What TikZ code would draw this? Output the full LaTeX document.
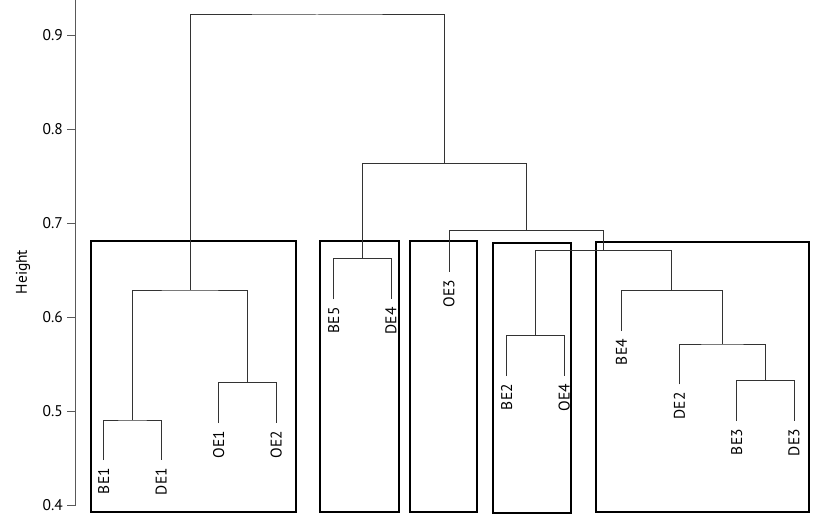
\documentclass[tikz,border=0pt]{standalone}
\usepackage{fontspec}
\setmainfont{PT Sans}
\begin{document}
\begin{tikzpicture}[x=1pt,y=-1pt,
  dend/.style={draw=black!80,line width=1pt},
  axisline/.style={draw=black!65,line width=1.3pt},
  clusterbox/.style={draw=black,line width=1.8pt},
  leaflabel/.style={rotate=90,anchor=east,inner sep=0pt,font=\fontsize{15.5}{17}\selectfont},
  ticklabel/.style={anchor=east,inner sep=0pt,font=\fontsize{15.5}{17}\selectfont}]
\useasboundingbox (0,0) rectangle (825,519);
% axis
\coordinate (atop) at (75.5,0);
\coordinate (abot) at (75.5,505);
\draw[axisline] (atop) -- (abot);
\foreach \k/\lab in {4/0.4,5/0.5,6/0.6,7/0.7,8/0.8,9/0.9}{
  \coordinate (t\k) at (75.5,{505-(\k-4)*93.9});
  \coordinate (tl\k) at (67,{505-(\k-4)*93.9});
  \draw[axisline,line width=1pt] (t\k) -- (tl\k);
  \node[ticklabel] (n\k) at (63,{505-(\k-4)*93.9}) {\lab};
}
\node[rotate=90,inner sep=0pt,font=\fontsize{15.5}{17}\selectfont] (ylab) at (23,272) {Height};
% cluster boxes
\draw[clusterbox] (90.7,240.7) rectangle (296,512.3);
\draw[clusterbox] (320,241) rectangle (398.7,512.3);
\draw[clusterbox] (410.3,241) rectangle (476.7,512.3);
\draw[clusterbox] (493,242.7) rectangle (571,513.3);
\draw[clusterbox] (595.7,241.7) rectangle (809.3,512.3);
% leaves
\coordinate (BE1) at (103.7,460);
\coordinate (DE1) at (161.3,460);
\coordinate (OE1) at (218.7,423);
\coordinate (OE2) at (276.3,423);
\coordinate (BE5) at (333.7,299.3);
\coordinate (DE4) at (391,299.3);
\coordinate (OE3) at (449,271.7);
\coordinate (BE2) at (506.7,376);
\coordinate (OE4) at (564.3,376);
\coordinate (BE4) at (621.3,331);
\coordinate (DE2) at (679.3,384.3);
\coordinate (BE3) at (736.7,421);
\coordinate (DE3) at (794,421);
% merges
\coordinate (m1) at (132.5,420);
\coordinate (m2) at (247.5,382.7);
\coordinate (m3) at (190,290);
\coordinate (m4) at (362.35,258.7);
\coordinate (m5) at (535.5,335.3);
\coordinate (m6) at (765.35,380.7);
\coordinate (m7) at (722.3,344);
\coordinate (m8) at (671.8,290.3);
\coordinate (m9) at (603.65,250.7);
\coordinate (m10) at (526.3,230.7);
\coordinate (m11) at (444.3,163.3);
\coordinate (m12) at (317,15);
\draw[dend] (BE1) |- (m1) -| (DE1);
\draw[dend] (OE1) |- (m2) -| (OE2);
\draw[dend] (m1) |- (m3) -| (m2);
\draw[dend] (BE5) |- (m4) -| (DE4);
\draw[dend] (BE2) |- (m5) -| (OE4);
\draw[dend] (BE3) |- (m6) -| (DE3);
\draw[dend] (DE2) |- (m7) -| (m6);
\draw[dend] (BE4) |- (m8) -| (m7);
\draw[dend] (m5) |- (m9) -| (m8);
\draw[dend] (OE3) |- (m10) -| (m9);
\draw[dend] (m4) |- (m11) -| (m10);
\draw[dend] (m3) |- (m12) -| (m11);
% labels
\foreach \l in {BE1,DE1,OE1,OE2,BE5,DE4,OE3,BE2,OE4,BE4,DE2,BE3,DE3}{
  \node[leaflabel] (lab\l) at ([yshift=-8]\l) {\l};
}
\end{tikzpicture}
\end{document}
